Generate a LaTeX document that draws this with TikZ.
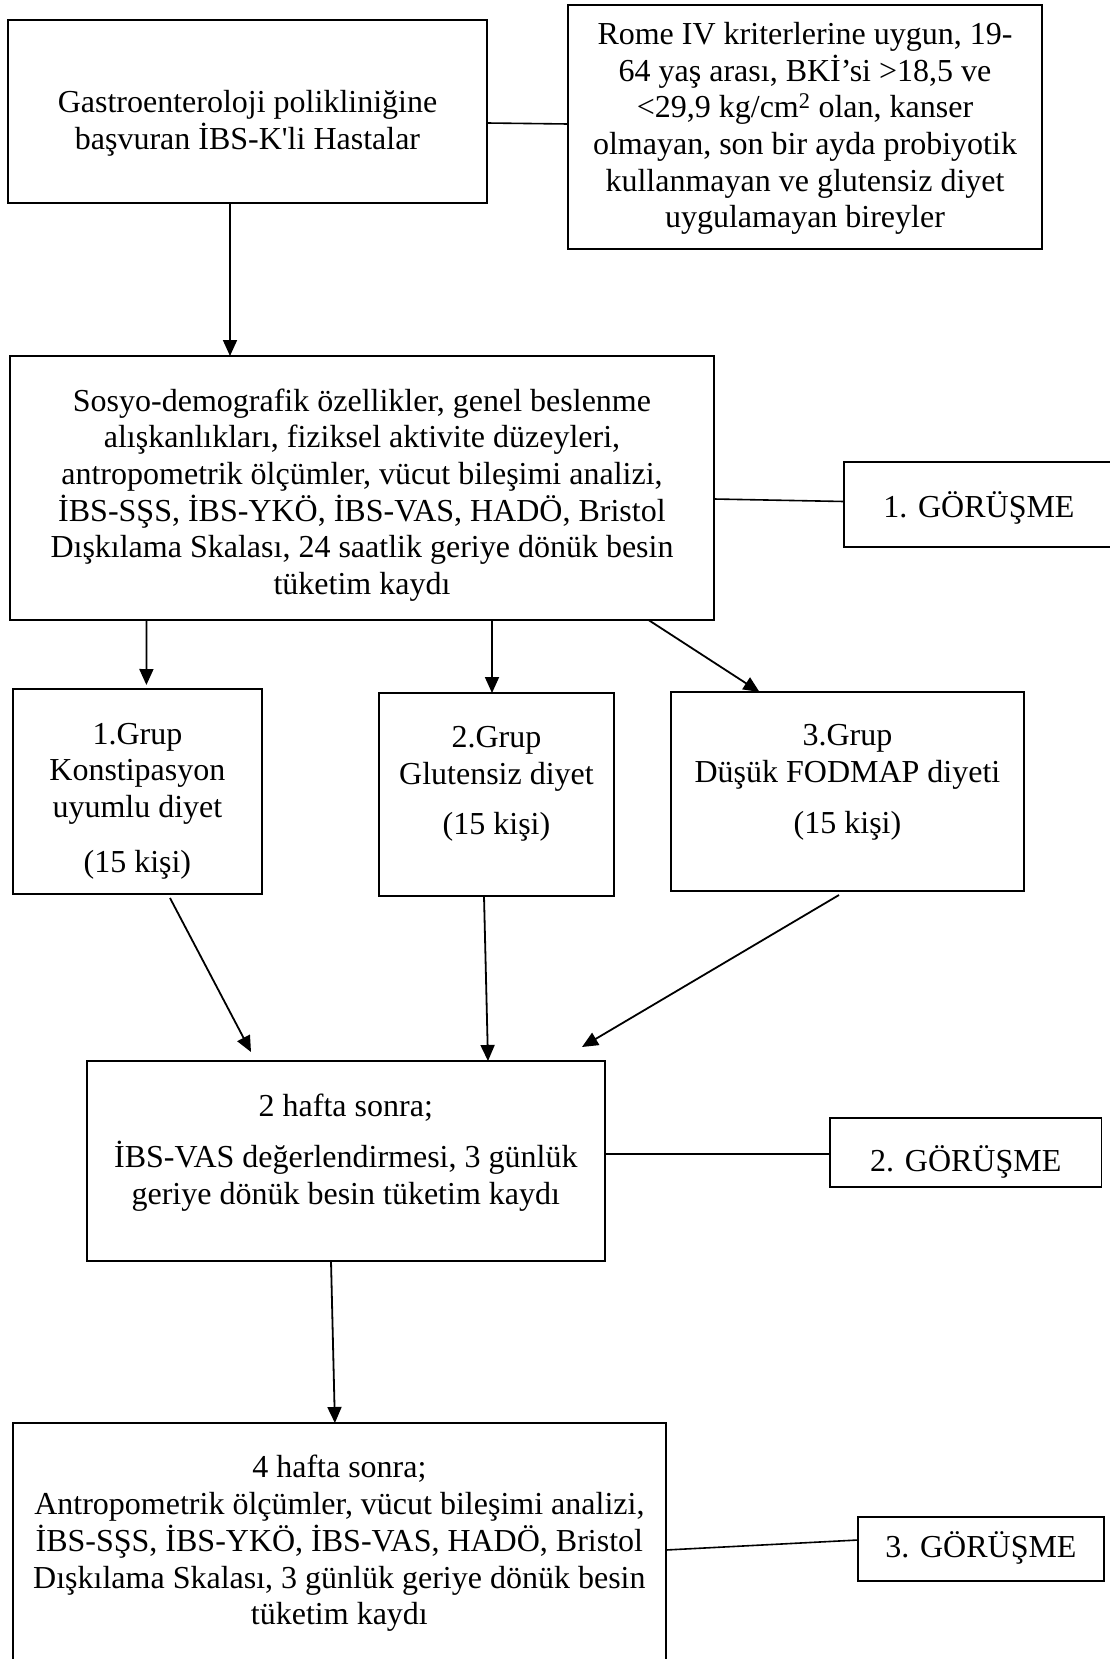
\documentclass[tikz,border=0pt]{standalone}
\usepackage{fontspec}
\setmainfont{Liberation Serif}
\usetikzlibrary{arrows.meta,calc}
\tikzset{
  box/.style={draw=black, line width=1.6pt, rectangle, inner sep=0pt, outer sep=0pt},
  txt/.style={align=center, inner sep=0pt, font=\fontsize{32}{36.7}\selectfont},
  link/.style={draw=black, line width=1.6pt},
  arr/.style={draw=black, line width=1.8pt, -{Triangle[length=16pt,width=14pt]}}
}
\begin{document}
\begin{tikzpicture}[x=1pt,y=-1pt]
\fill[white] (0,0) rectangle (1110,1659);
\useasboundingbox (0,0) rectangle (1110,1659);
% boxes
\node[box, minimum width=479pt, minimum height=183pt] (A) at (247.5,111.5) {};
\node[box, minimum width=474pt, minimum height=244pt] (B) at (805,127) {};
\node[box, minimum width=704pt, minimum height=264pt] (C) at (362,488) {};
\node[box, minimum width=270pt, minimum height=85pt] (G1) at (979,504.5) {};
\node[box, minimum width=249pt, minimum height=205pt] (P1) at (137.4,791.5) {};
\node[box, minimum width=235pt, minimum height=203pt] (P2) at (496.5,794.5) {};
\node[box, minimum width=353pt, minimum height=199pt] (P3) at (847.5,791.5) {};
\node[box, minimum width=518pt, minimum height=200pt] (D) at (345.8,1161) {};
\node[box, minimum width=271.5pt, minimum height=69pt] (G2) at (965.8,1152.5) {};
\node[box, minimum width=653pt, minimum height=277pt] (E) at (339.4,1561.5) {};
\node[box, minimum width=246pt, minimum height=64pt] (G3) at (981,1549) {};
% texts
\node[txt] (At) at (247.5,123.5) {Gastroenteroloji polikliniğine\\başvuran İBS-K\textquotesingle li Hastalar};
\node[txt] (Bt) at (805,128.5) {Rome IV kriterlerine uygun, 19-\\64 yaş arası, BKİ’si >18,5 ve\\<29,9 kg/cm\textsuperscript{2} olan, kanser\\olmayan, son bir ayda probiyotik\\kullanmayan ve glutensiz diyet\\uygulamayan bireyler};
\node[txt] (Ct) at (362,495) {Sosyo-demografik özellikler, genel beslenme\\alışkanlıkları, fiziksel aktivite düzeyleri,\\antropometrik ölçümler, vücut bileşimi analizi,\\İBS-SŞS, İBS-YKÖ, İBS-VAS, HADÖ, Bristol\\Dışkılama Skalası, 24 saatlik geriye dönük besin\\tüketim kaydı};
\node[txt] (G1t) at (979,508) {1. GÖRÜŞME};
\node[txt] (P1t) at (137.4,801) {1.Grup\\Konstipasyon\\uyumlu diyet\\[18pt](15 kişi)};
\node[txt] (P2t) at (496.5,784) {2.Grup\\Glutensiz diyet\\[14pt](15 kişi)};
\node[txt] (P3t) at (847.5,782.5) {3.Grup\\Düşük FODMAP diyeti\\[15pt](15 kişi)};
\node[txt] (Dt) at (345.8,1152.5) {2 hafta sonra;\\[15pt]İBS-VAS değerlendirmesi, 3 günlük\\geriye dönük besin tüketim kaydı};
\node[txt] (G2t) at (965.8,1162) {2. GÖRÜŞME};
\node[txt] (Et) at (339.4,1543.5) {4 hafta sonra;\\Antropometrik ölçümler, vücut bileşimi analizi,\\İBS-SŞS, İBS-YKÖ, İBS-VAS, HADÖ, Bristol\\Dışkılama Skalası, 3 günlük geriye dönük besin\\tüketim kaydı};
\node[txt] (G3t) at (981,1548) {3. GÖRÜŞME};
% plain links
\draw[link] ([yshift=-11.5pt]A.east) -- ([yshift=3pt]B.west);
\draw[link] ([yshift=-11pt]C.east) -- ([yshift=3pt]G1.west);
\draw[link] ([yshift=7pt]D.east) -- ([yshift=-1.5pt]G2.west);
\draw[link] ([yshift=11.5pt]E.east) -- ([yshift=9pt]G3.west);
% arrows
\draw[arr] ([xshift=-17.5pt]A.south) -- ([xshift=-132pt]C.north);
\draw[arr] ([xshift=-215.5pt]C.south) -- ([xshift=9pt,yshift=4pt]P1.north);
\draw[arr] ([xshift=130pt]C.south) -- ([xshift=-4.5pt]P2.north);
\draw[arr] ([xshift=286.5pt]C.south) -- ([xshift=-88pt]P3.north);
\draw[arr] ([xshift=32.6pt,yshift=-4pt]P1.south) -- ([xshift=-94.8pt,yshift=9pt]D.north);
\draw[arr] ([xshift=-12.5pt]P2.south) -- ([xshift=142.2pt]D.north);
\draw[arr] ([xshift=-8.5pt,yshift=-4pt]P3.south) -- ([xshift=236.2pt,yshift=14pt]D.north);
\draw[arr] ([xshift=-14.8pt]D.south) -- ([xshift=-4.5pt]E.north);
\end{tikzpicture}
\end{document}
